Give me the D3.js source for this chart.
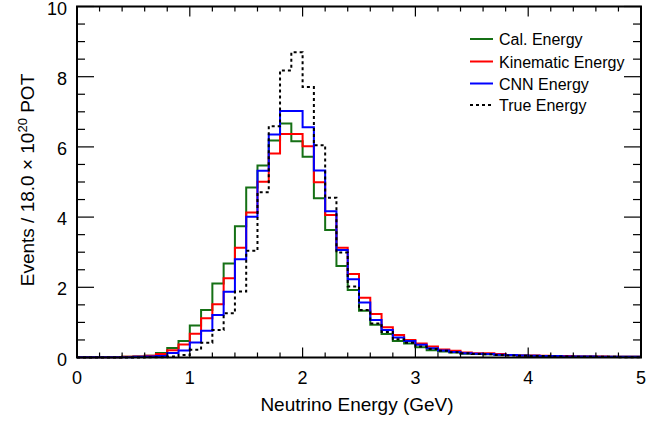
<!DOCTYPE html>
<html>
<head>
<meta charset="utf-8">
<script src="https://cdn.jsdelivr.net/npm/d3@7"></script>
<style>
  body { margin: 0; background: #fff; }
  svg { font-family: "Liberation Sans", Arial, Helvetica, sans-serif; }
</style>
</head>
<body>
<div id="chart"></div>
<script>
// histogram contents, 50 bins of 0.1 GeV from 0 to 5
const binLow = 0;
const binWidth = 0.1;

const calEnergy = [0.01, 0.01, 0.01, 0.01, 0.02, 0.03, 0.05, 0.13, 0.27, 0.47,
  0.91, 1.35, 2.11, 2.68, 3.74, 4.84, 5.47, 6.18, 6.67, 6.16,
  5.72, 4.54, 3.63, 2.61, 1.92, 1.33, 0.93, 0.67, 0.47, 0.40,
  0.29, 0.21, 0.17, 0.14, 0.11, 0.10, 0.09, 0.08, 0.07, 0.06,
  0.05, 0.04, 0.04, 0.03, 0.03, 0.03, 0.02, 0.02, 0.02, 0.02];

const kinEnergy = [0.01, 0.01, 0.01, 0.01, 0.02, 0.03, 0.05, 0.10, 0.21, 0.37,
  0.68, 1.12, 1.52, 2.26, 3.13, 4.13, 5.01, 5.81, 6.37, 6.37,
  6.02, 4.99, 4.06, 3.13, 2.38, 1.70, 1.24, 0.86, 0.64, 0.50,
  0.40, 0.31, 0.23, 0.19, 0.14, 0.12, 0.12, 0.10, 0.07, 0.06,
  0.06, 0.05, 0.04, 0.04, 0.03, 0.03, 0.03, 0.02, 0.02, 0.02];

const cnnEnergy = [0.01, 0.01, 0.01, 0.01, 0.01, 0.02, 0.03, 0.04, 0.13, 0.20,
  0.43, 0.76, 1.21, 1.87, 2.80, 4.01, 5.32, 6.35, 7.02, 7.02,
  6.56, 5.33, 4.17, 3.06, 2.23, 1.57, 1.07, 0.78, 0.57, 0.47,
  0.36, 0.26, 0.20, 0.16, 0.12, 0.11, 0.10, 0.08, 0.07, 0.06,
  0.05, 0.04, 0.04, 0.03, 0.03, 0.03, 0.02, 0.02, 0.02, 0.02];

const trueEnergy = [0, 0, 0, 0, 0, 0, 0.01, 0.01, 0.03, 0.07,
  0.22, 0.42, 0.78, 1.26, 1.88, 3.04, 4.71, 6.59, 8.18, 8.70,
  7.71, 6.05, 4.55, 2.99, 2.02, 1.35, 0.97, 0.73, 0.52, 0.42,
  0.31, 0.24, 0.19, 0.15, 0.12, 0.10, 0.09, 0.07, 0.06, 0.05,
  0.04, 0.04, 0.03, 0.03, 0.02, 0.02, 0.02, 0.02, 0.01, 0.01];

const seriesNames = ["Cal. Energy", "Kinematic Energy", "CNN Energy", "True Energy"];
const seriesColors = ["#157015", "#ff0000", "#0000ff", "#000000"];
const seriesDash = [null, null, null, "3,3"];
const seriesValues = [calEnergy, kinEnergy, cnnEnergy, trueEnergy];

const xTicks = [0, 1, 2, 3, 4, 5];
const yTicks = [0, 2, 4, 6, 8, 10];

const width = 667, height = 424;
const padL = 77, padR = 641, padT = 6.5, padB = 357.5;

const svg = d3.select("#chart").append("svg")
  .attr("width", width)
  .attr("height", height);

const x = d3.scaleLinear().domain([0, 5]).range([padL, padR]);
const y = d3.scaleLinear().domain([0, 10]).range([padB, padT]);

const line = d3.line()
  .x(d => x(d[0]))
  .y(d => y(d[1]))
  .curve(d3.curveStepAfter);

const plot = svg.append("g");
seriesValues.forEach((vals, s) => {
  const pts = vals.map((v, i) => [binLow + i * binWidth, v]);
  pts.push([binLow + vals.length * binWidth, vals[vals.length - 1]]);
  plot.append("path")
    .datum(pts)
    .attr("d", line)
    .attr("fill", "none")
    .attr("stroke", seriesColors[s])
    .attr("stroke-width", 2)
    .attr("stroke-dasharray", seriesDash[s]);
});

// ticks on all four sides, pointing in
const ticksG = svg.append("g").attr("stroke", "#000").attr("stroke-width", 1.2);
const xMinor = d3.range(0, 5.001, 0.2);
xMinor.forEach(v => {
  const major = Math.abs(v - Math.round(v)) < 1e-6;
  const len = major ? 10 : 5;
  ticksG.append("line").attr("x1", x(v)).attr("x2", x(v)).attr("y1", padB).attr("y2", padB - len);
  ticksG.append("line").attr("x1", x(v)).attr("x2", x(v)).attr("y1", padT).attr("y2", padT + len);
});
const yMinor = d3.range(0, 10.001, 0.5);
yMinor.forEach(v => {
  const major = Math.abs(v / 2 - Math.round(v / 2)) < 1e-6;
  const len = major ? 17 : 8;
  ticksG.append("line").attr("x1", padL).attr("x2", padL + len).attr("y1", y(v)).attr("y2", y(v));
  ticksG.append("line").attr("x1", padR).attr("x2", padR - len).attr("y1", y(v)).attr("y2", y(v));
});

// frame
svg.append("rect")
  .attr("x", padL).attr("y", padT)
  .attr("width", padR - padL).attr("height", padB - padT)
  .attr("fill", "none").attr("stroke", "#000").attr("stroke-width", 2);

// tick labels
svg.append("g").selectAll("text").data(xTicks).join("text")
  .attr("x", d => x(d)).attr("y", 384)
  .attr("text-anchor", "middle")
  .attr("font-size", 18)
  .text(d => d);

svg.append("g").selectAll("text").data(yTicks).join("text")
  .attr("x", 67).attr("y", d => y(d) + 8)
  .attr("text-anchor", "end")
  .attr("font-size", 18)
  .text(d => d);

// axis titles
svg.append("text")
  .attr("x", 357).attr("y", 411)
  .attr("text-anchor", "middle")
  .attr("font-size", 19)
  .text("Neutrino Energy (GeV)");

const yTitle = svg.append("text")
  .attr("transform", `translate(34, ${(padT + padB) / 2 - 2}) rotate(-90)`)
  .attr("text-anchor", "middle")
  .attr("font-size", 19);
yTitle.append("tspan").text("Events / 18.0 \u00d7 10");
yTitle.append("tspan").attr("dy", -7).attr("font-size", 13).text("20");
yTitle.append("tspan").attr("dy", 7).text(" POT");

// legend
const legendY = [39, 61.5, 83.5, 105];
const legend = svg.append("g");
seriesNames.forEach((name, s) => {
  legend.append("line")
    .attr("x1", 470).attr("x2", 493)
    .attr("y1", legendY[s]).attr("y2", legendY[s])
    .attr("stroke", seriesColors[s])
    .attr("stroke-width", 2)
    .attr("stroke-dasharray", seriesDash[s]);
  legend.append("text")
    .attr("x", 499).attr("y", legendY[s] + 6)
    .attr("font-size", 16)
    .text(name);
});
</script>
</body>
</html>
